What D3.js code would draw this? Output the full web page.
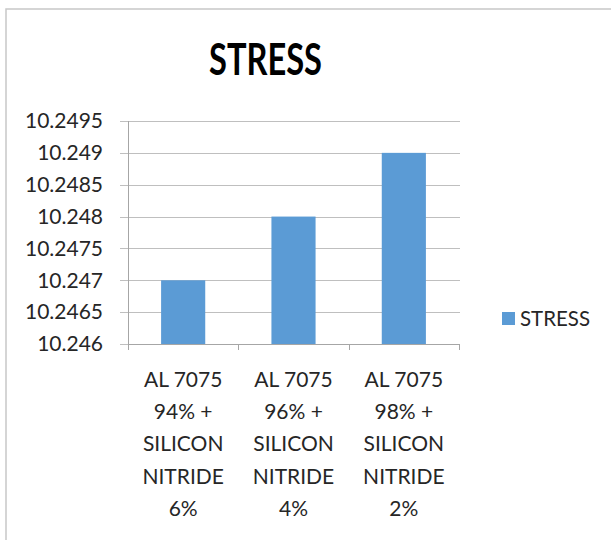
<!DOCTYPE html>
<html><head><meta charset="utf-8">
<script src="https://cdn.jsdelivr.net/npm/d3@7"></script>
<style>body{margin:0;background:#fff;} text{font-family:Lato,"Open Sans",sans-serif;}</style>
</head><body>
<svg id="c" width="611" height="540"></svg>
<script>
const categories = [
  ["AL 7075","94% +","SILICON","NITRIDE","6%"],
  ["AL 7075","96% +","SILICON","NITRIDE","4%"],
  ["AL 7075","98% +","SILICON","NITRIDE","2%"]
];
const stressValues = [10.247, 10.248, 10.249];
const yTicks = [10.246, 10.2465, 10.247, 10.2475, 10.248, 10.2485, 10.249, 10.2495];
const yTickLabels = ["10.246","10.2465","10.247","10.2475","10.248","10.2485","10.249","10.2495"];
const seriesName = "STRESS";

(function(){
const svg = d3.select("#c");
svg.append("rect").attr("x",0).attr("y",0).attr("width",611).attr("height",540).attr("fill","#fff");
svg.append("rect").attr("x",6).attr("y",9).attr("width",640).attr("height",600)
  .attr("fill","none").attr("stroke","#c8c8c8").attr("stroke-width",1.5);

const pl = 128, pr = 459, pt = 121, pb = 344;
const x = d3.scaleBand().domain(d3.range(categories.length)).range([pl, pr]).paddingInner(0.6).paddingOuter(0.3);
const xb = d3.scaleBand().domain(d3.range(categories.length)).range([pl, pr]);
const y = d3.scaleLinear().domain([10.246, 10.2495]).range([pb, pt]);

svg.append("g").selectAll("line").data(yTicks).join("line")
  .attr("x1", pl - 8).attr("x2", pr + 1)
  .attr("y1", d => Math.round(y(d)) + 0.5).attr("y2", d => Math.round(y(d)) + 0.5)
  .attr("stroke", "#bfbfbf").attr("stroke-width", 1);

svg.append("g").selectAll("rect").data(stressValues).join("rect")
  .attr("x", (d,i) => x(i)).attr("width", x.bandwidth())
  .attr("y", d => y(d)).attr("height", d => y(10.246) - y(d))
  .attr("fill", "#5b9bd5");

svg.append("line").attr("x1", pl + 0.5).attr("x2", pl + 0.5).attr("y1", pt).attr("y2", pb)
  .attr("stroke", "#a6a6a6");
svg.append("line").attr("x1", pl).attr("x2", pr + 1).attr("y1", pb + 0.5).attr("y2", pb + 0.5)
  .attr("stroke", "#a6a6a6");
svg.append("g").selectAll("line").data(d3.range(categories.length + 1)).join("line")
  .attr("x1", i => Math.round(pl + i * xb.bandwidth()) + 0.5)
  .attr("x2", i => Math.round(pl + i * xb.bandwidth()) + 0.5)
  .attr("y1", pb).attr("y2", pb + 6).attr("stroke", "#a6a6a6");

svg.append("g").selectAll("text").data(yTicks).join("text")
  .attr("x", 103).attr("y", d => y(d)).attr("dy", "0.35em")
  .attr("text-anchor", "end").attr("font-size", 21).attr("fill", "#262626")
  .text((d,i) => yTickLabels[i]);

const xl = svg.append("g").selectAll("text").data(categories).join("text")
  .attr("text-anchor", "middle").attr("font-size", 21).attr("fill", "#262626")
  .attr("x", (d,i) => xb(i) + xb.bandwidth() / 2);
xl.selectAll("tspan").data(d => d).join("tspan")
  .attr("x", function(){ return d3.select(this.parentNode).attr("x"); })
  .attr("y", (d,i) => 387 + i * 32.2)
  .text(d => d);

svg.append("text").attr("x", 265.5).attr("y", 75).attr("text-anchor", "middle")
  .attr("font-size", 44).attr("font-weight", "bold").attr("fill", "#000")
  .attr("textLength", 113).attr("lengthAdjust", "spacingAndGlyphs").text(seriesName);

svg.append("rect").attr("x", 502).attr("y", 312).attr("width", 13).attr("height", 13).attr("fill", "#5b9bd5");
svg.append("text").attr("x", 520).attr("y", 318.5).attr("dy", "0.35em").attr("font-size", 21)
  .attr("fill", "#262626").attr("textLength", 70).attr("lengthAdjust", "spacingAndGlyphs").text(seriesName);
})();
</script>
</body></html>
